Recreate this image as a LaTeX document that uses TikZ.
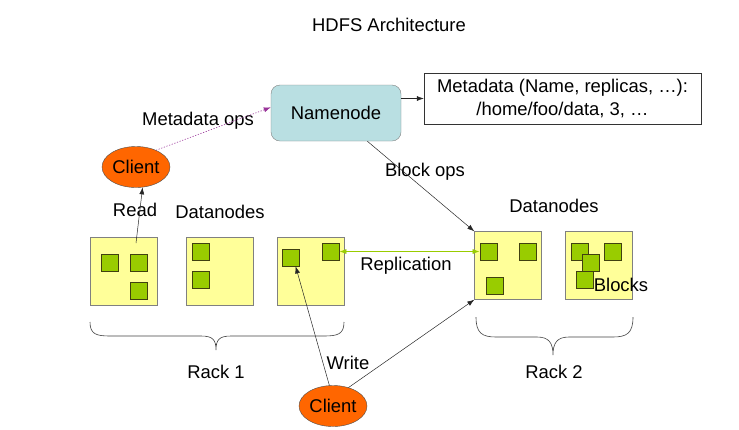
\documentclass[tikz,border=0pt]{standalone}
\usepackage{fontspec}
\setmainfont{Liberation Sans}
\usepackage{tikz}
\usetikzlibrary{shapes.geometric, arrows.meta, positioning}

\begin{document}
\begin{tikzpicture}[x=1bp, y=-1bp, font=\fontsize{18.5}{23}\selectfont,
  >={Latex[length=7bp,width=5bp]},
  datanode/.style={draw=gray, fill=dnyellow, minimum width=67bp, minimum height=68bp, inner sep=0pt},
  blockbox/.style={draw=blockedge, fill=blockgreen, minimum size=17bp, inner sep=0pt, line width=0.9pt},
  client/.style={ellipse, draw=black!70, fill=clientorange, minimum width=68bp, minimum height=41bp, inner sep=0pt},
  link/.style={->, draw=black!85, line width=0.5pt}]
  \definecolor{dnyellow}{HTML}{FFFF99}
  \definecolor{blockgreen}{HTML}{99CC00}
  \definecolor{blockedge}{HTML}{404010}
  \definecolor{clientorange}{HTML}{FF6600}
  \definecolor{nnblue}{HTML}{B9DFE2}
  \definecolor{opspurple}{HTML}{993399}

  \useasboundingbox (0,0) rectangle (739,429);

  \node (title) at (389,25) {HDFS Architecture};

  \node[draw=gray, fill=nnblue, rounded corners=9bp, minimum width=130bp, minimum height=56bp] (nn) at (336,113) {Namenode};
  \node[draw=black!80, minimum width=277bp, minimum height=51bp, align=center, inner sep=0pt] (meta) at (562.5,98.5)
    {Metadata (Name, replicas, \dots):\\/home/foo/data, 3, \dots};
  \draw[link] (meta.west -| nn.east) -- (meta.west);

  \node[client] (client1) at (136,167) {Client};
  \node[client] (client2) at (333,406) {Client};

  \node[datanode] (dn1) at (124,271) {};
  \node[datanode] (dn2) at (220,271) {};
  \node[datanode] (dn3) at (310.5,271) {};
  \node[datanode] (dn4) at (508,265.5) {};
  \node[datanode] (dn5) at (599,265.5) {};

  \node[blockbox] (b11) at (109.5,262.5) {};
  \node[blockbox] (b12) at (138.5,262.5) {};
  \node[blockbox] (b13) at (138.5,290.5) {};
  \node[blockbox] (b21) at (200.5,251.5) {};
  \node[blockbox] (b22) at (200.5,279.5) {};
  \node[blockbox] (b31) at (290.5,257.5) {};
  \node[blockbox] (b32) at (330.5,251.5) {};
  \node[blockbox] (b41) at (488.5,251.5) {};
  \node[blockbox] (b42) at (528,251.5) {};
  \node[blockbox] (b43) at (494.5,285.5) {};
  \node[blockbox] (b51) at (579.5,251.5) {};
  \node[blockbox] (b52) at (612.5,251.5) {};
  \node[blockbox] (b53) at (590.5,262.5) {};
  \node[blockbox] (b54) at (584.5,279.5) {};

  \node (lblmeta) at (198,121) {Metadata ops};
  \node (lblblock) at (425,172) {Block ops};
  \node (lblread) at (135,210) {Read};
  \node (lbldn1) at (220,212) {Datanodes};
  \node (lbldn2) at (554,206) {Datanodes};
  \node (lblrepl) at (406,266) {Replication};
  \node (lblblocks) at (621,285) {Blocks};
  \node (lblwrite) at (348,363) {Write};
  \node (lblrack1) at (216,372) {Rack 1};
  \node (lblrack2) at (554,372) {Rack 2};

  \draw[->, opspurple, line width=0.6pt, dash pattern=on 1.2pt off 1.6pt] (client1.40) -- (nn.175);
  \draw[link] (nn.-42) -- (dn4.north west);
  \coordinate (readstart) at (136,243);
  \draw[link] (readstart) -- (client1.-72);
  \draw[<->, blockgreen, line width=0.7pt] (b32.east) -- (b41.west);
  \draw[link] (client2.100) -- (b31.-60);
  \draw[link] (client2.50) -- (dn4.south west);

  \draw[draw=black!75, line width=0.6pt] (90,322) .. controls (90,334) and (96,336) .. (110,336) -- (201,336)
    .. controls (213,336) and (216,340) .. (216,350) .. controls (216,340) and (219,336) .. (231,336)
    -- (324,336) .. controls (338,336) and (344,334) .. (344,322);
  \draw[draw=black!75, line width=0.6pt] (476,317) .. controls (476,333) and (482,337) .. (496,337) -- (537,337)
    .. controls (549,337) and (553,343) .. (553,355) .. controls (553,343) and (557,337) .. (569,337)
    -- (613,337) .. controls (627,337) and (633,333) .. (633,317);
\end{tikzpicture}
\end{document}
